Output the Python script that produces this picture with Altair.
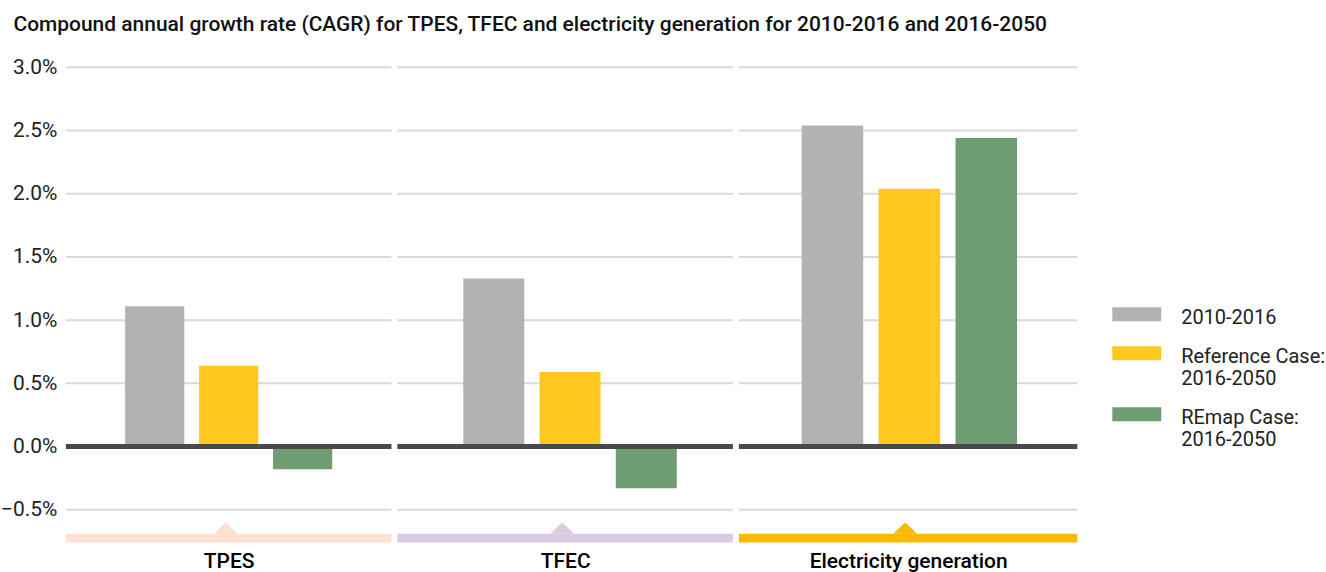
import altair as alt
import pandas as pd

categories = ["TPES", "TFEC", "Electricity generation"]
series = ["2010-2016", "Reference Case: 2016-2050", "REmap Case: 2016-2050"]
cagr_2010_2016 = [1.11, 1.33, 2.54]
cagr_reference_2016_2050 = [0.64, 0.59, 2.04]
cagr_remap_2016_2050 = [-0.18, -0.33, 2.44]
y_ticks = [-0.5, 0.0, 0.5, 1.0, 1.5, 2.0, 2.5, 3.0]

series_colors = ["#b2b2b2", "#fec81e", "#6f9d72"]
band_colors = ["#fde1d0", "#dcc9e3", "#fbb900"]
panel_widths = [326, 336, 339]
panel_align = [0.5, 0.54, 0.51]
PANEL_H = 476
Y_DOMAIN = [-0.76, 3.0]
BAND_TOP = -0.69
FONT = "Roboto"

rows = []
for i, cat in enumerate(categories):
    for s, vals in zip(series, [cagr_2010_2016, cagr_reference_2016_2050, cagr_remap_2016_2050]):
        rows.append({"category": cat, "series": s, "value": vals[i]})
df = pd.DataFrame(rows)
grid_df = pd.DataFrame({"tick": y_ticks})

legend = alt.Legend(
    title=None,
    orient="none",
    legendX=1043,
    legendY=231,
    symbolType="M-1,-0.12L8.8,-0.12L8.8,2.68L-1,2.68Z",
    symbolSize=100,
    symbolStrokeWidth=0,
    symbolOpacity=1,
    labelFont=FONT,
    labelFontSize=20,
    labelColor="#222222",
    labelBaseline="top",
    labelOffset=54,
    labelLimit=300,
    rowPadding=9,
    labelExpr="split(replace(datum.label, ': ', ':|'), '|')",
)

yscale = alt.Scale(domain=Y_DOMAIN, nice=False, zero=False)

panels = []
for i, cat in enumerate(categories):
    W = panel_widths[i]
    d = df[df["category"] == cat]
    if i == 0:
        yaxis = alt.Axis(
            values=y_ticks,
            grid=False,
            ticks=False,
            domain=False,
            labelExpr="format(datum.value, '.1f') + '%'",
            labelFont=FONT,
            labelFontSize=21,
            labelColor="#222222",
            labelPadding=9,
            title=None,
        )
    else:
        yaxis = None
    grid = alt.Chart(grid_df).mark_rule(color="#d9d9d9", strokeWidth=2).encode(
        y=alt.Y("tick:Q", scale=yscale, axis=yaxis)
    )
    bars = alt.Chart(d).mark_bar().encode(
        x=alt.X(
            "series:N",
            sort=series,
            scale=alt.Scale(
                domain=series, paddingInner=0.2, paddingOuter=0.8, align=panel_align[i]
            ),
            axis=alt.Axis(
                title=cat,
                labels=False,
                ticks=False,
                domain=False,
                grid=False,
                titleFont=FONT,
                titleFontSize=21,
                titleFontWeight=500,
                titleColor="#000000",
                titlePadding=8,
            ),
        ),
        y=alt.Y("value:Q", scale=yscale, axis=yaxis),
        color=alt.Color(
            "series:N",
            scale=alt.Scale(domain=series, range=series_colors),
            legend=legend,
        ),
    )
    one = pd.DataFrame({"category": [cat]})
    zero = alt.Chart(one).mark_rule(color="#48484d", strokeWidth=5).encode(
        y=alt.Y(datum=0.0, scale=yscale, axis=yaxis)
    )
    band = alt.Chart(one).mark_rect(color=band_colors[i]).encode(
        x=alt.value(0),
        x2=alt.value(W),
        y=alt.Y(datum=BAND_TOP, scale=yscale, axis=yaxis),
        y2=alt.datum(Y_DOMAIN[0]),
    )
    tri = alt.Chart(one).mark_point(
        shape="M-1,0L0,-0.95L1,0Z",
        filled=True,
        opacity=1,
        size=576,
        color=band_colors[i],
        strokeWidth=0,
    ).encode(
        x=alt.value(W / 2 - 3),
        y=alt.Y(datum=BAND_TOP, scale=yscale, axis=yaxis),
    )
    panel = alt.layer(grid, bars, zero, band, tri).properties(width=W, height=PANEL_H)
    panels.append(panel)

chart = (
    alt.hconcat(*panels, spacing=0)
    .resolve_scale(color="shared", x="independent", y="shared")
    .resolve_axis(y="independent")
    .properties(
        title=alt.TitleParams(
            "Compound annual growth rate (CAGR) for TPES, TFEC and electricity generation for 2010-2016 and 2016-2050",
            anchor="start",
            font=FONT,
            fontSize=21,
            fontWeight=500,
            color="#111111",
            offset=21,
            dx=13,
        ),
        padding={"left": 0, "top": 14, "right": 0, "bottom": 0},
        background="white",
    )
    .configure_view(strokeWidth=0, stroke="transparent")
)

chart.save("out.html", embed_options={"renderer": "svg", "actions": False})
